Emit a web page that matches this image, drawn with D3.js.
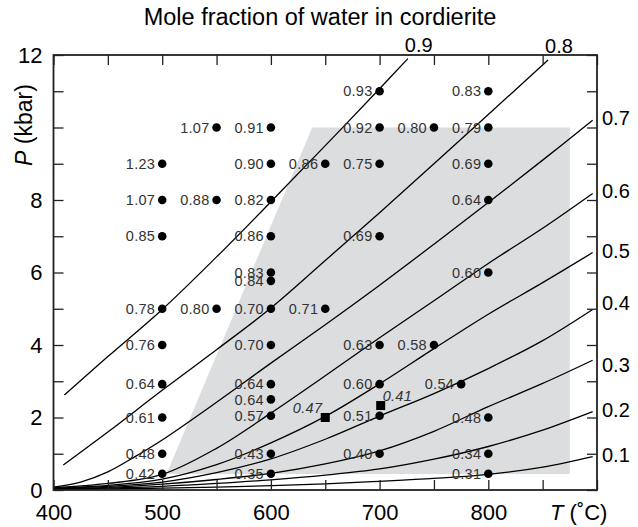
<!DOCTYPE html>
<html>
<head>
<meta charset="utf-8">
<script src="https://cdn.jsdelivr.net/npm/d3@7"></script>
<style>
  body { margin: 0; background: #fff; }
  svg text { font-family: "Liberation Sans", Arial, sans-serif; }
  .dotlabel { font-size: 14.5px; letter-spacing: 0.3px; fill: #333; }
</style>
</head>
<body>
<div id="chart"></div>
<script>
// isopleths of X(H2O) in cordierite, [T °C, P kbar]
var iso09 = [[410, 2.62], [450, 3.68], [500, 4.98], [550, 6.43], [600, 7.95], [650, 9.5], [700, 11.07], [726, 11.9]];
var iso08 = [[409, 0.69], [450, 1.6], [500, 2.75], [550, 3.87], [600, 5.02], [650, 6.33], [700, 7.65], [750, 9.0], [800, 10.36], [855, 11.86]];
var iso07 = [[400, 0.08], [425, 0.22], [450, 0.5], [475, 0.92], [500, 1.38], [550, 2.42], [600, 3.5], [650, 4.56], [700, 5.65], [750, 6.78], [800, 7.93], [850, 9.1], [896, 10.2]];
var iso06 = [[400, 0.06], [450, 0.18], [500, 0.43], [550, 1.15], [600, 2.12], [650, 3.15], [700, 4.2], [750, 5.22], [800, 6.25], [850, 7.22], [896, 8.18]];
var iso05 = [[400, 0.05], [450, 0.13], [500, 0.3], [550, 0.7], [600, 1.3], [650, 2.03], [700, 2.93], [750, 3.9], [800, 4.85], [850, 5.72], [896, 6.55]];
var iso04 = [[400, 0.04], [450, 0.1], [500, 0.22], [550, 0.48], [600, 0.86], [650, 1.4], [700, 2.04], [750, 2.66], [800, 3.35], [850, 4.12], [896, 4.98]];
var iso03 = [[400, 0.03], [450, 0.07], [500, 0.16], [550, 0.29], [600, 0.46], [650, 0.72], [700, 1.08], [750, 1.62], [800, 2.3], [850, 2.94], [896, 3.58]];
var iso02 = [[400, 0.02], [450, 0.05], [500, 0.1], [550, 0.18], [600, 0.28], [650, 0.41], [700, 0.58], [750, 0.85], [800, 1.2], [850, 1.65], [896, 2.16]];
var iso01 = [[400, 0.01], [450, 0.03], [500, 0.05], [550, 0.08], [600, 0.12], [650, 0.17], [700, 0.24], [750, 0.32], [800, 0.43], [850, 0.63], [896, 0.92]];

var isoLabels = ["0.9", "0.8", "0.7", "0.6", "0.5", "0.4", "0.3", "0.2", "0.1"];
var isoCurves = [iso09, iso08, iso07, iso06, iso05, iso04, iso03, iso02, iso01];

// experiments (circles)
var dotT = [500, 500, 500, 500, 500, 500, 500, 500, 500,
  550, 550, 550,
  600, 600, 600, 600, 600, 600, 600, 600, 600, 600, 600, 600, 600,
  650, 650,
  700, 700, 700, 700, 700, 700, 700, 700,
  750, 750, 775,
  800, 800, 800, 800, 800, 800, 800, 800];
var dotP = [9, 8, 7, 5, 4, 2.92, 2, 1, 0.45,
  10, 8, 5,
  10, 9, 8, 7, 6, 5.77, 5, 4, 2.92, 2.5, 2.05, 1, 0.45,
  9, 5,
  11, 10, 9, 7, 4, 2.92, 2.05, 1,
  10, 4, 2.92,
  11, 10, 9, 8, 6, 2, 1, 0.45];
var dotLabel = ["1.23", "1.07", "0.85", "0.78", "0.76", "0.64", "0.61", "0.48", "0.42",
  "1.07", "0.88", "0.80",
  "0.91", "0.90", "0.82", "0.86", "0.83", "0.84", "0.70", "0.70", "0.64", "0.64", "0.57", "0.43", "0.35",
  "0.86", "0.71",
  "0.93", "0.92", "0.75", "0.69", "0.63", "0.60", "0.51", "0.40",
  "0.80", "0.58", "0.54",
  "0.83", "0.79", "0.69", "0.64", "0.60", "0.48", "0.34", "0.31"];

// squares
var sqT = [650, 701];
var sqP = [2.0, 2.33];
var sqLabel = ["0.47", "0.41"];

// shaded field
var fieldT = [504, 638, 875, 875];
var fieldP = [0.44, 10, 10, 0.44];

var xTicks = d3.range(400, 901, 50);
var xLabels = [400, 500, 600, 700, 800];
var yTicks = d3.range(0, 13, 1);
var yLabels = [0, 2, 4, 6, 8, 12];

var width = 638,
  height = 527;
var mLeft = 53.5, mRight = 597, mTop = 55, mBottom = 490;

var svg = d3.select('#chart')
  .append('svg')
  .attr('width', width)
  .attr('height', height)

var x = d3.scaleLinear().domain([400, 900]).range([mLeft, mRight]);
var y = d3.scaleLinear().domain([0, 12]).range([mBottom, mTop]);

// gray field
svg.append('polygon')
  .attr('points', fieldT.map((t, i) => x(t) + ',' + y(fieldP[i])).join(' '))
  .attr('fill', '#dcdddf')

// curves
var line = d3.line()
  .x(d => x(d[0]))
  .y(d => y(d[1]))
  .curve(d3.curveCatmullRom)

svg.append('g')
  .selectAll('path')
  .data(isoCurves)
  .join('path')
  .attr('d', line)
  .attr('fill', 'none')
  .attr('stroke', '#000')
  .attr('stroke-width', 1.3)

// curve labels: top edge or right edge
var labelNudge = { "0.4": -6, "0.3": 5 };
isoCurves.forEach(function (c, i) {
  var end = c[c.length - 1];
  var t = svg.append('text')
    .text(isoLabels[i])
    .style('font-size', '20px')
  if (end[1] > 11.5) {
    t.attr('x', x(end[0]) - 3).attr('y', y(end[1]) - 7)
  } else {
    t.attr('x', x(900) + 5)
      .attr('y', y(end[1]) + (labelNudge[isoLabels[i]] || -2))
      .attr('dy', '0.35em')
  }
});

// axes, ticks pointing inward
var fmtX = d => xLabels.indexOf(d) >= 0 ? d : "";
var fmtY = d => yLabels.indexOf(d) >= 0 ? d : "";

svg.append('g')
  .attr('transform', 'translate(0,' + mBottom + ')')
  .call(d3.axisBottom(x).tickValues(xTicks).tickSize(-10).tickPadding(14).tickFormat(fmtX))
svg.append('g')
  .attr('transform', 'translate(0,' + mTop + ')')
  .call(d3.axisTop(x).tickValues(xTicks).tickSize(-10).tickFormat(""))
svg.append('g')
  .attr('transform', 'translate(' + mLeft + ',0)')
  .call(d3.axisLeft(y).tickValues(yTicks).tickSize(-10).tickPadding(11).tickFormat(fmtY))
svg.append('g')
  .attr('transform', 'translate(' + mRight + ',0)')
  .call(d3.axisRight(y).tickValues(yTicks).tickSize(-10).tickFormat(""))

svg.selectAll('.domain').remove()
svg.selectAll('.tick line').attr('stroke', '#222').attr('stroke-width', 1.3)
svg.selectAll('.tick text')
  .attr('font-family', null)
  .style('font-size', '22px')
  .attr('fill', '#000')

// frame
svg.append('rect')
  .attr('x', mLeft).attr('y', mTop)
  .attr('width', mRight - mLeft).attr('height', mBottom - mTop)
  .attr('fill', 'none')
  .attr('stroke', '#222')
  .attr('stroke-width', 1.8)

// circles + labels
var dots = d3.range(dotT.length);
svg.append('g')
  .selectAll('circle')
  .data(dots)
  .join('circle')
  .attr('cx', i => x(dotT[i]))
  .attr('cy', i => y(dotP[i]))
  .attr('r', 4.3)
  .attr('fill', '#000')

svg.append('g')
  .selectAll('text')
  .data(dots)
  .join('text')
  .attr('class', 'dotlabel')
  .attr('x', i => x(dotT[i]) - 7)
  .attr('y', i => y(dotP[i]))
  .attr('dy', '0.36em')
  .attr('text-anchor', 'end')
  .text(i => dotLabel[i])

// squares
var sq = d3.range(sqT.length);
svg.append('g')
  .selectAll('rect')
  .data(sq)
  .join('rect')
  .attr('x', i => x(sqT[i]) - 4.5)
  .attr('y', i => y(sqP[i]) - 4.5)
  .attr('width', 9)
  .attr('height', 9)
  .attr('fill', '#000')

svg.append('g')
  .selectAll('text')
  .data(sq)
  .join('text')
  .attr('class', 'dotlabel')
  .style('font-style', 'italic')
  .attr('x', i => i == 0 ? x(sqT[i]) - 3 : x(sqT[i]) + 2)
  .attr('y', i => y(sqP[i]) - 5)
  .attr('text-anchor', i => i == 0 ? 'end' : 'start')
  .text(i => sqLabel[i])

// titles
svg.append('text')
  .attr('x', 320).attr('y', 25)
  .attr('text-anchor', 'middle')
  .style('font-size', '23.5px')
  .text('Mole fraction of water in cordierite')

var xt = svg.append('text')
  .attr('x', 550).attr('y', 520)
  .style('font-size', '22px')
xt.append('tspan').style('font-style', 'italic').text('T')
xt.append('tspan').text(' (˚C)')

var yt = svg.append('text')
  .attr('transform', 'translate(32,125) rotate(-90)')
  .attr('text-anchor', 'middle')
  .style('font-size', '23px')
yt.append('tspan').style('font-style', 'italic').text('P')
yt.append('tspan').text(' (kbar)')
</script>
</body>
</html>
